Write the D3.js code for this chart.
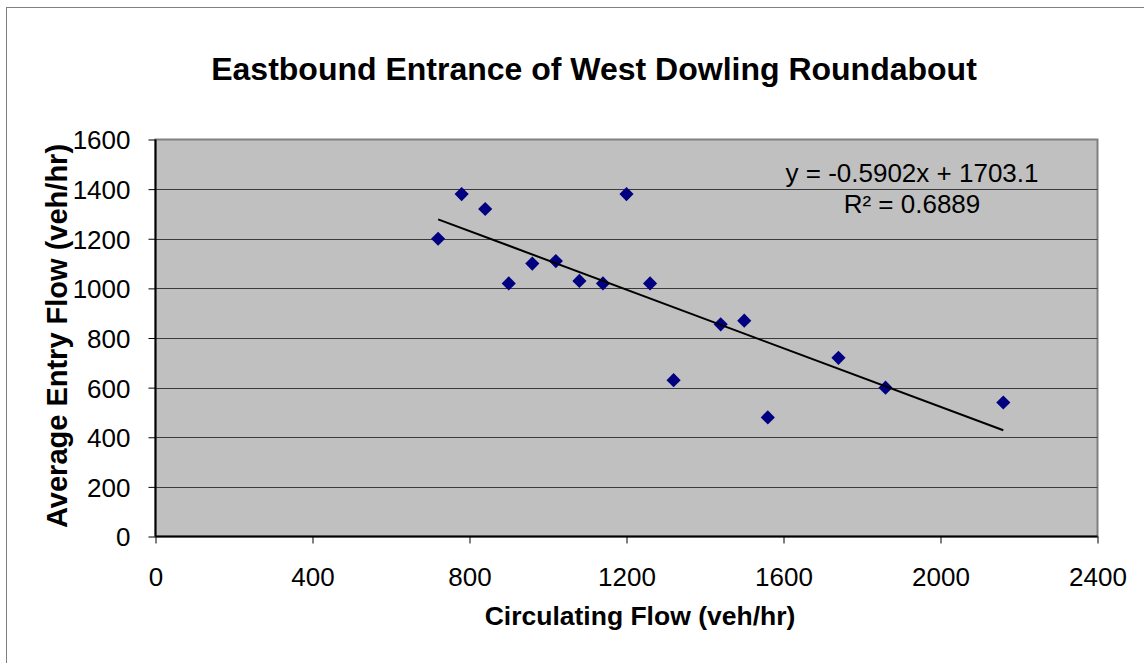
<!DOCTYPE html>
<html>
<head>
<meta charset="utf-8">
<script src="https://cdn.jsdelivr.net/npm/d3@7"></script>
<style>
  html, body { margin: 0; padding: 0; background: #fff; }
  svg { display: block; font-family: Arial, "Liberation Sans", sans-serif; }
</style>
</head>
<body>
<svg id="chart" width="1144" height="663"></svg>
<script>
const chartTitle = "Eastbound Entrance of West Dowling Roundabout";
const xTitle = "Circulating Flow (veh/hr)";
const yTitle = "Average Entry Flow (veh/hr)";
const circulatingFlow = [720, 780, 840, 900, 960, 1020, 1080, 1140, 1200, 1260, 1320, 1440, 1500, 1560, 1740, 1860, 2160];
const entryFlow       = [1200, 1380, 1320, 1020, 1100, 1110, 1030, 1020, 1380, 1020, 630, 855, 870, 480, 720, 600, 540];
const xTicks = [0, 400, 800, 1200, 1600, 2000, 2400];
const yTicks = [0, 200, 400, 600, 800, 1000, 1200, 1400, 1600];
const trendSlope = -0.5902;
const trendIntercept = 1703.1;
const equationLines = ["y = -0.5902x + 1703.1", "R\u00B2 = 0.6889"];

const svg = d3.select("#chart");
const plot = { left: 155.5, right: 1097.5, top: 139.5, bottom: 536.5 };

const x = d3.scaleLinear().domain([0, 2400]).range([plot.left, plot.right]);
const y = d3.scaleLinear().domain([0, 1600]).range([plot.bottom, plot.top]);

// outer frame
svg.append("rect").attr("x", 6.5).attr("y", 7.5).attr("width", 1200).attr("height", 700)
  .attr("fill", "#fff").attr("stroke", "#808080").attr("stroke-width", 1);

// plot area
svg.append("rect").attr("x", plot.left).attr("y", plot.top)
  .attr("width", plot.right - plot.left).attr("height", plot.bottom - plot.top)
  .attr("fill", "#C0C0C0").attr("stroke", "#808080").attr("stroke-width", 2);

// gridlines
svg.append("g").selectAll("line").data(yTicks.filter(d => d > 0 && d < 1600)).join("line")
  .attr("x1", plot.left).attr("x2", plot.right)
  .attr("y1", d => Math.round(y(d)) + 0.5).attr("y2", d => Math.round(y(d)) + 0.5)
  .attr("stroke", "#3a3a3a").attr("stroke-width", 1);

// axes
const yAxis = d3.axisLeft(y).tickValues(yTicks).tickSize(7).tickPadding(18).tickFormat(d3.format("d"));
const gy = svg.append("g").attr("transform", `translate(${plot.left},0)`).call(yAxis);
gy.select(".domain").attr("stroke", "#000").attr("stroke-width", 2).attr("d", `M0,${plot.top}V${plot.bottom}`);
gy.selectAll(".tick line").attr("stroke", "#000");
gy.selectAll(".tick text").attr("font-size", 26).attr("fill", "#000")
  .attr("font-family", "Arial, 'Liberation Sans', sans-serif").attr("dy", "0.36em");

const xAxis = d3.axisBottom(x).tickValues(xTicks).tickSize(7).tickPadding(24).tickFormat(d3.format("d"));
const gx = svg.append("g").attr("transform", `translate(0,${plot.bottom})`).call(xAxis);
gx.select(".domain").attr("stroke", "#000").attr("stroke-width", 2).attr("d", `M${plot.left},0H${plot.right}`);
gx.selectAll(".tick line").attr("stroke", "#000");
gx.selectAll(".tick text").attr("font-size", 26).attr("fill", "#000")
  .attr("font-family", "Arial, 'Liberation Sans', sans-serif").attr("dy", "0.71em");

// markers
const diamond = d3.symbol().type(d3.symbolDiamond2).size(128);
svg.append("g").selectAll("path").data(circulatingFlow.map((c, i) => [c, entryFlow[i]])).join("path")
  .attr("transform", d => `translate(${x(d[0])},${y(d[1])})`)
  .attr("d", diamond).attr("fill", "#000080");

// trend line
const xMin = d3.min(circulatingFlow), xMax = d3.max(circulatingFlow);
svg.append("line")
  .attr("x1", x(xMin)).attr("y1", y(trendSlope * xMin + trendIntercept))
  .attr("x2", x(xMax)).attr("y2", y(trendSlope * xMax + trendIntercept))
  .attr("stroke", "#000").attr("stroke-width", 2);

// equation
svg.append("g").selectAll("text").data(equationLines).join("text")
  .attr("x", 912).attr("y", (d, i) => 182 + i * 31)
  .attr("text-anchor", "middle").attr("font-size", 26).attr("fill", "#000").text(d => d);

// titles
svg.append("text").attr("x", 594).attr("y", 80).attr("text-anchor", "middle")
  .attr("font-size", 32).attr("font-weight", "bold").text(chartTitle);
svg.append("text").attr("x", 640).attr("y", 625).attr("text-anchor", "middle")
  .attr("font-size", 26.5).attr("font-weight", "bold").text(xTitle);
svg.append("text").attr("transform", "translate(67,336) rotate(-90)").attr("text-anchor", "middle")
  .attr("font-size", 29).attr("font-weight", "bold").text(yTitle);
</script>
</body>
</html>
